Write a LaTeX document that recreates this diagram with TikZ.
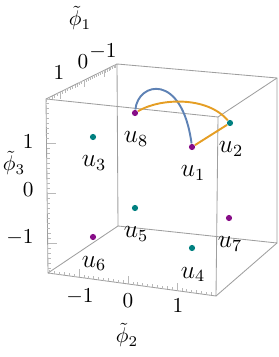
\documentclass[tikz,border=0pt]{standalone}
\usetikzlibrary{calc}
\definecolor{dotpurple}{rgb}{0.53,0.05,0.53}
\definecolor{dotteal}{rgb}{0,0.5,0.5}
\definecolor{curveblue}{rgb}{0.37,0.51,0.71}
\definecolor{curveorange}{rgb}{0.9,0.62,0.14}

\begin{document}
\begin{tikzpicture}[x=.47pt,y=-.47pt,
  boxedge/.style={gray!75,line width=.4pt},
  tickmark/.style={gray!55,line width=.3pt},
  ptA/.style={circle,fill=dotpurple,inner sep=0pt,minimum size=2.9pt},
  ptB/.style={circle,fill=dotteal,inner sep=0pt,minimum size=2.9pt},
  ulab/.style={anchor=base,font=\large},
  arc/.style={line width=.9pt}]
\useasboundingbox (0,0) rectangle (278,357);
% box corners (front / back)
\coordinate (ftl) at (46,99);\coordinate (ftr) at (218,117);
\coordinate (fbr) at (216,296);\coordinate (fbl) at (48,273);
\coordinate (btl) at (117,64);\coordinate (btr) at (277,78);
\coordinate (bbr) at (277,243);\coordinate (bbl) at (118,226);
\draw[boxedge] (btl)--(btr)--(bbr)--(bbl)--cycle;
\draw[boxedge] (ftl)--(ftr)--(fbr)--(fbl)--cycle;
\draw[boxedge] (ftl)--(btl) (ftr)--(btr) (fbr)--(bbr) (fbl)--(bbl);
% ticks
\foreach \v in {-17,...,15}{
  \pgfmathsetmacro\t{0.535-0.3095*\v/10-0.0285*(\v/10)^2}
  \pgfmathsetmacro\len{abs(mod(\v,10))==0 ? 7 : 3}
  \draw[tickmark] (46+71*\t,99-35*\t) -- ++(0,\len);
}
\foreach \v in {-16,...,18}{
  \pgfmathsetmacro\yy{193-5*\v}
  \pgfmathsetmacro\len{abs(mod(\v,10))==0 ? 9 : 3}
  \draw[tickmark] (46+2*\yy/174-2*99/174,\yy) -- ++(\len,0);
}
\foreach \v in {-16,...,17}{
  \pgfmathsetmacro\xx{128+4.9*\v}
  \pgfmathsetmacro\len{abs(mod(\v,10))==0 ? 8 : 3}
  \draw[tickmark] (\xx,273+23*\xx/168-23*48/168) -- ++(0,-\len);
}
% tick labels and axis names
\node at (59,73){$1$};\node at (83,62){$0$};\node at (103,52){$-1$};
\node[anchor=east] at (41,142){$1$};\node[anchor=east] at (41,190){$0$};\node[anchor=east] at (41,238){$-1$};
\node at (80,297){$-1$};\node at (128,301){$0$};\node at (178,306){$1$};
\node (phi1) at (80,18){$\tilde{\phi}_1$};
\node (phi3) at (14,163){$\tilde{\phi}_3$};
\node (phi2) at (127,335){$\tilde{\phi}_2$};
% points
\node[ptA] (u1) at (192,147){};\node[ptB] (u2) at (230,123){};
\node[ptB] (u3) at (93,137){};\node[ptB] (u4) at (192,248){};
\node[ptB] (u5) at (135,208){};\node[ptA] (u6) at (93,237){};
\node[ptA] (u7) at (229,218){};\node[ptA] (u8) at (135,113){};
\foreach \i in {1,...,8}{\node[ulab] (l\i) at ($(u\i)+(1,30)$){$u_\i$};}
% connections
\draw[arc,curveblue] (u8) .. controls (138,82) and (182,72) .. (u1);
\draw[arc,curveorange] (u8) .. controls (160,98) and (207,96) .. (u2);
\draw[arc,curveorange] (u1) -- (u2);
\end{tikzpicture}
\end{document}
